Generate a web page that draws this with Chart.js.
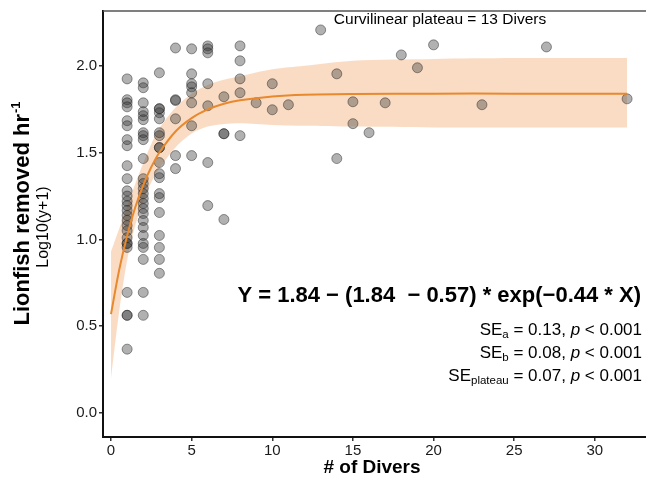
<!DOCTYPE html>
<html>
<head>
<meta charset="utf-8">
<script src="https://cdn.jsdelivr.net/npm/chart.js@4.4.1/dist/chart.umd.min.js"></script>
<style>
  body { margin: 0; background: #fff; }
</style>
</head>
<body>
<canvas id="myChart" width="646" height="481"></canvas>
<script>
'use strict';

// observations: number of divers vs log10(lionfish removed per hour + 1)
var divers = [
  1,1,1,1,1,1,1,1,1,1,1,1,1,1,1,1,1,1,1,1,1,1,1,1,1,1,1,
  2,2,2,2,2,2,2,2,2,2,2,2,2,2,2,2,2,2,2,2,2,2,2,2,2,2,
  3,3,3,3,3,3,3,3,3,3,3,3,3,3,3,3,3,3,3,
  4,4,4,4,4,4,
  5,5,5,5,5,5,5,5,
  6,6,6,6,6,6,6,
  7,7,7,7,
  8,8,8,8,8,
  9,10,10,11,13,14,14,15,15,16,17,18,19,20,23,27,32
];
var lionfish = [
  1.925,1.805,1.787,1.764,1.684,1.655,1.575,1.54,1.425,1.35,1.28,1.25,1.22,1.195,1.167,1.138,1.11,1.08,1.05,1.01,0.977,0.977,0.954,0.695,0.563,0.563,0.368,
  1.902,1.874,1.787,1.736,1.713,1.69,1.615,1.598,1.575,1.466,1.35,1.322,1.293,1.264,1.236,1.207,1.178,1.149,1.109,1.069,1.023,0.977,0.954,0.885,0.695,0.563,
  1.96,1.753,1.753,1.73,1.695,1.615,1.598,1.529,1.529,1.443,1.379,1.356,1.264,1.241,1.155,1.023,0.954,0.885,0.805,
  2.103,1.805,1.8,1.695,1.483,1.408,
  2.098,1.954,1.897,1.879,1.845,1.787,1.655,1.483,
  2.115,2.098,2.075,1.897,1.77,1.443,1.195,
  1.822,1.609,1.609,1.115,
  2.115,2.029,1.925,1.845,1.598,
  1.787,1.897,1.747,1.776,2.207,1.954,1.466,1.793,1.667,1.615,1.787,2.063,1.989,2.121,1.776,2.109,1.81
];

// fitted curve and its confidence band
var fitX =   [0,    0.5,  1,    1.5,  2,    2.5,  3,    4,    5,    6,    7,    8,    10,   12,   15,   20,   25,   32];
var fitY =   [0.57, 0.821,1.022,1.184,1.313,1.417,1.501,1.622,1.699,1.749,1.782,1.802,1.824,1.834,1.838,1.84, 1.84, 1.84];
var bandHi = [0.93, 1.06, 1.19, 1.32, 1.44, 1.55, 1.64, 1.76, 1.84, 1.89, 1.92, 1.94, 1.98, 2.0,  2.03, 2.04, 2.045,2.045];
var bandLo = [0.2,  0.58, 0.88, 1.08, 1.22, 1.33, 1.41, 1.53, 1.61, 1.65, 1.665,1.67, 1.66, 1.655,1.65, 1.645,1.645,1.645];

var xTicks = [0, 5, 10, 15, 20, 25, 30];
var yTicks = [0, 0.5, 1, 1.5, 2];

var FONT = '"Liberation Sans", Arial, sans-serif';

function pts(xs, ys) {
  return xs.map(function (x, i) { return { x: x, y: ys[i] }; });
}

// all annotation text drawn by hand
var textPlugin = {
  id: 'texts',
  afterDraw: function (chart) {
    var c = chart.ctx;
    var a = chart.chartArea;
    c.save();
    // top frame line, and the bottom axis carried on to the page edge
    c.strokeStyle = '#555';
    c.lineWidth = 1.5;
    c.beginPath();
    c.moveTo(a.left, a.top);
    c.lineTo(chart.width, a.top);
    c.stroke();
    c.strokeStyle = '#111';
    c.lineWidth = 2;
    c.beginPath();
    c.moveTo(a.right - 1, a.bottom);
    c.lineTo(chart.width, a.bottom);
    c.stroke();

    c.fillStyle = '#000';
    c.textBaseline = 'middle';
    c.textAlign = 'center';
    c.font = '15.5px ' + FONT;
    c.fillText('Curvilinear plateau = 13 Divers', 440, 20);

    c.textAlign = 'right';
    c.font = 'bold 22px ' + FONT;
    c.fillText('Y = 1.84 \u2212 (1.84  \u2212 0.57) * exp(\u22120.44 * X)', 641, 296);

    function seLine(sub, val, y) {
      var parts = [
        { t: 'SE', f: '17px ' + FONT, dy: 0 },
        { t: sub, f: '11.5px ' + FONT, dy: 5 },
        { t: ' = ' + val + ', ', f: '17px ' + FONT, dy: 0 },
        { t: 'p', f: 'italic 17px ' + FONT, dy: 0 },
        { t: ' < 0.001', f: '17px ' + FONT, dy: 0 }
      ];
      var total = 0;
      parts.forEach(function (p) { c.font = p.f; p.w = c.measureText(p.t).width; total += p.w; });
      var x = 642 - total;
      c.textAlign = 'left';
      parts.forEach(function (p) { c.font = p.f; c.fillText(p.t, x, y + p.dy); x += p.w; });
    }
    seLine('a', '0.13', 330);
    seLine('b', '0.08', 353);
    seLine('plateau', '0.07', 376);

    // x title
    c.textAlign = 'center';
    c.font = 'bold 19px ' + FONT;
    c.fillText('# of Divers', 372, 468);

    // y title
    c.save();
    c.translate(23, 214);
    c.rotate(-Math.PI / 2);
    c.font = 'bold 22px ' + FONT;
    var main = 'Lionfish removed hr';
    var w = c.measureText(main).width;
    c.font = 'bold 13px ' + FONT;
    var s = c.measureText('-1').width;
    var x0 = -(w + s) / 2;
    c.textAlign = 'left';
    c.font = 'bold 22px ' + FONT;
    c.fillText(main, x0, 0);
    c.font = 'bold 13px ' + FONT;
    c.fillText('-1', x0 + w + 1, -7);
    c.restore();

    c.save();
    c.translate(44, 227);
    c.rotate(-Math.PI / 2);
    c.textAlign = 'center';
    c.font = '16px ' + FONT;
    c.fillText('Log10(y+1)', 0, 0);
    c.restore();

    c.restore();
  }
};

var ctx = document.getElementById('myChart').getContext('2d');
var chart = new Chart(ctx, {
  type: 'scatter',
  data: {
    datasets: [
      {
        label: 'upper',
        data: pts(fitX, bandHi),
        showLine: true,
        borderWidth: 0,
        borderColor: 'rgba(0,0,0,0)',
        backgroundColor: 'rgba(246,192,148,0.55)',
        pointRadius: 0,
        tension: 0.3,
        fill: '+1',
        order: 3
      },
      {
        label: 'lower',
        data: pts(fitX, bandLo),
        showLine: true,
        borderWidth: 0,
        borderColor: 'rgba(0,0,0,0)',
        pointRadius: 0,
        tension: 0.3,
        fill: false,
        order: 3
      },
      {
        label: 'observations',
        data: pts(divers, lionfish),
        backgroundColor: 'rgba(50,50,50,0.38)',
        borderColor: 'rgba(30,30,30,0.45)',
        borderWidth: 1,
        pointRadius: 5,
        clip: false,
        order: 2
      },
      {
        label: 'fit',
        data: pts(fitX, fitY),
        showLine: true,
        borderColor: '#e8892e',
        borderWidth: 2,
        pointRadius: 0,
        tension: 0.3,
        fill: false,
        order: 1
      }
    ]
  },
  options: {
    responsive: false,
    animation: false,
    layout: { padding: { top: 10, right: 0, left: 0, bottom: 0 } },
    plugins: {
      legend: { display: false },
      tooltip: { enabled: false }
    },
    scales: {
      x: {
        type: 'linear',
        min: -0.496,
        max: 32.8,
        afterBuildTicks: function (s) { s.ticks = xTicks.map(function (v) { return { value: v }; }); },
        afterFit: function (s) { s.height = 44; },
        border: { display: true, color: '#111', width: 2 },
        grid: { display: true, drawOnChartArea: false, drawTicks: true, tickLength: 4, color: '#333', lineWidth: 1.5 },
        ticks: {
          color: '#1a1a1a',
          font: { family: FONT, size: 15 },
          padding: 1
        }
      },
      y: {
        type: 'linear',
        min: -0.138,
        max: 2.316,
        afterBuildTicks: function (s) { s.ticks = yTicks.map(function (v) { return { value: v }; }); },
        afterFit: function (s) { s.width = 103; },
        border: { display: true, color: '#111', width: 2 },
        grid: { display: true, drawOnChartArea: false, drawTicks: true, tickLength: 4, color: '#333', lineWidth: 1.5 },
        ticks: {
          color: '#1a1a1a',
          font: { family: FONT, size: 15 },
          padding: 2,
          callback: function (v) { return v.toFixed(1); }
        }
      }
    }
  },
  plugins: [textPlugin]
});
</script>
</body>
</html>
